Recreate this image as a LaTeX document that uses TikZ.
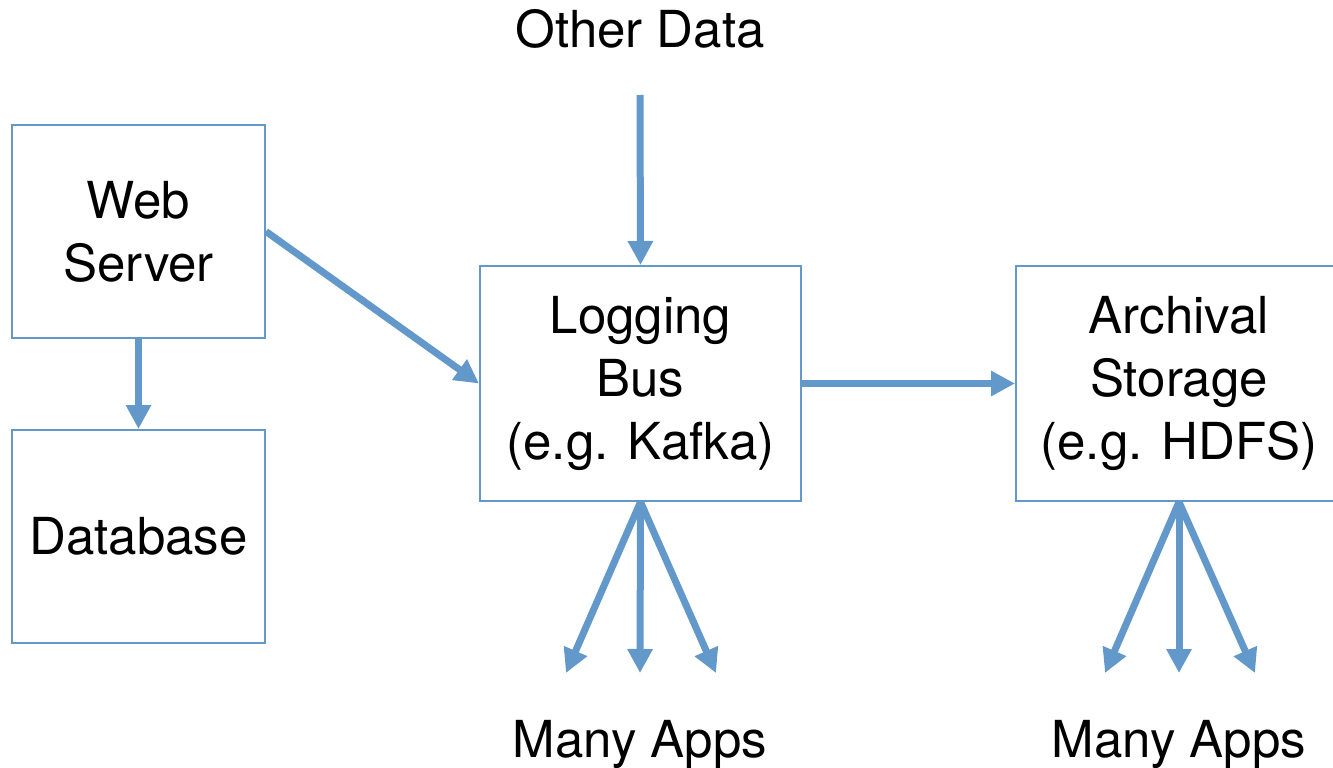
\documentclass[tikz,border=0pt]{standalone}
\usepackage{fontspec}
\setmainfont{TeX Gyre Heros}
\usetikzlibrary{arrows.meta}
\definecolor{blu}{RGB}{98,152,202}
\begin{document}
\begin{tikzpicture}[x=1pt,y=-1pt,
  box/.style={draw=blu,line width=2pt,align=center,inner sep=0pt,
    font=\fontsize{51}{63}\selectfont},
  lbl/.style={inner sep=0pt,font=\fontsize{51}{63}\selectfont},
  arr/.style={draw=blu,line width=7pt,-{Triangle[length=24pt,width=24pt]}}]
\useasboundingbox (0,0) rectangle (1333,768);
\clip (0,0) rectangle (1333,768);
\node[box,minimum width=253pt,minimum height=213pt] (ws) at (138.5,231.5) {Web\\Server};
\node[box,minimum width=253pt,minimum height=213pt] (db) at (138.5,536.5) {Database};
\node[box,minimum width=321pt,minimum height=235pt] (lb) at (640.5,383.5) {Logging\\Bus\\(e.g. Kafka)};
\node[box,minimum width=326pt,minimum height=235pt] (ar) at (1179,383.5) {Archival\\Storage\\(e.g. HDFS)};
\node[lbl,anchor=base] (od) at (640,48) {Other Data};
\node[lbl,anchor=base] (ma1) at (640,757) {Many Apps};
\node[lbl,anchor=base] (ma2) at (1179,757) {Many Apps};
\coordinate (odend) at (640,95);
\coordinate (a1) at (566,673);
\coordinate (a2) at (640,673);
\coordinate (a3) at (716,673);
\coordinate (b1) at (1105,673);
\coordinate (b2) at (1179,673);
\coordinate (b3) at (1255,673);
\draw[arr] (ws.south) -- (db.north);
\draw[arr] (ws.east) -- (lb.west);
\draw[arr] (odend) -- (lb.north);
\draw[arr] (lb.east) -- (ar.west);
\draw[arr] (lb.south) -- (a1);
\draw[arr] (lb.south) -- (a2);
\draw[arr] (lb.south) -- (a3);
\draw[arr] (ar.south) -- (b1);
\draw[arr] (ar.south) -- (b2);
\draw[arr] (ar.south) -- (b3);
\end{tikzpicture}
\end{document}
